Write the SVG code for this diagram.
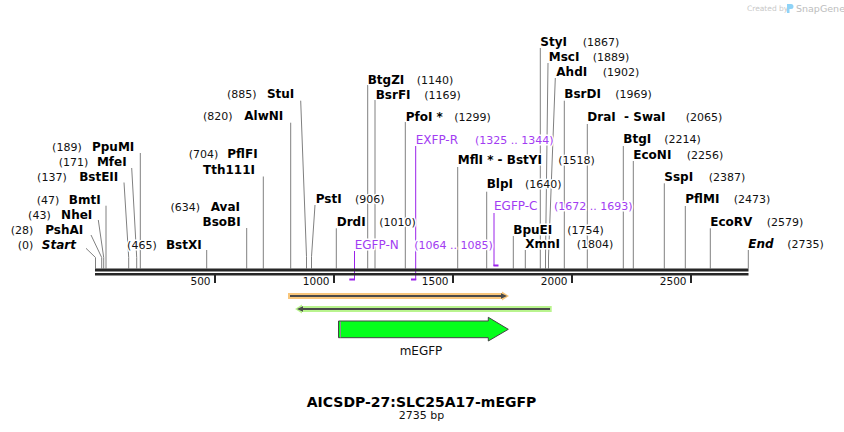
<svg xmlns="http://www.w3.org/2000/svg" width="844" height="432" viewBox="0 0 844 432">
<style>
text{font-family:"DejaVu Sans","Verdana",sans-serif;}
.nm{font-size:12px;font-weight:bold;fill:#000;}
.it{font-style:italic;}
.ps{font-size:11px;fill:#111;}
.bg{paint-order:stroke;stroke:#fff;stroke-width:3px;stroke-linejoin:round;}
.pr{font-size:12px;fill:#a23cf2;}
.prn{font-size:11px;fill:#a23cf2;}
.cut{stroke:#808080;stroke-width:1;fill:none;}
.pl{stroke:#9a22ea;stroke-width:1;fill:none;}
.ph{stroke:#9a22ea;stroke-width:2;fill:none;}
.tk{font-size:10.5px;fill:#111;text-anchor:end;}
</style>
<rect width="844" height="432" fill="#fff"/>

<!-- watermark -->
<g id="watermark">
<text x="747" y="11" style="font-size:7.5px;fill:#c8c8c8">Created by</text>
<path d="M787,4 h4 a2.5,2.5 0 0 1 0,5 h-1.5 v4 h-2.5 z" fill="#8fd3f7"/>
<text x="796" y="12" style="font-size:9.5px;fill:#bdbdbd">SnapGene</text>
</g>

<!-- connectors -->
<g id="connectors">
<polyline class="cut" points="86,248.3 95.5,257.5 95.5,268.5"/>
<polyline class="cut" points="91,235 101.7,257.5 101.7,268.5"/>
<polyline class="cut" points="98.3,220 103.7,257.5 103.7,268.5"/>
<line class="cut" x1="106" y1="205.7" x2="106" y2="268.5"/>
<polyline class="cut" points="124,182.5 128.7,257.5 128.7,268.5"/>
<polyline class="cut" points="131.7,168 136.7,257.5 136.7,268.5"/>
<line class="cut" x1="140.3" y1="153" x2="140.3" y2="268.5"/>
<line class="cut" x1="206.7" y1="250" x2="206.7" y2="268.5"/>
<line class="cut" x1="246.7" y1="228" x2="246.7" y2="268.5"/>
<line class="cut" x1="263.3" y1="176.5" x2="263.3" y2="268.5"/>
<line class="cut" x1="290.7" y1="122.7" x2="290.7" y2="268.5"/>
<polyline class="cut" points="300.7,100.7 306.5,256.7 306.5,268.5"/>
<polyline class="cut" points="315,205 311.5,256.7 311.5,268.5"/>
<line class="cut" x1="336.3" y1="228.3" x2="336.3" y2="268.5"/>
<line class="cut" x1="367.7" y1="85" x2="367.7" y2="268.5"/>
<line class="cut" x1="375" y1="100" x2="375" y2="268.5"/>
<line class="cut" x1="405.3" y1="122" x2="405.3" y2="268.5"/>
<line class="cut" x1="457.7" y1="167" x2="457.7" y2="268.5"/>
<line class="cut" x1="486.7" y1="191.7" x2="486.7" y2="268.5"/>
<line class="cut" x1="513.3" y1="236" x2="513.3" y2="268.5"/>
<line class="cut" x1="525.3" y1="250" x2="525.3" y2="268.5"/>
<line class="cut" x1="540.3" y1="48" x2="540.3" y2="268.5"/>
<polyline class="cut" points="548,63 545.5,257 545.5,268.5"/>
<polyline class="cut" points="555.3,78 548.5,257 548.5,268.5"/>
<line class="cut" x1="564.3" y1="100.7" x2="564.3" y2="268.5"/>
<line class="cut" x1="587.3" y1="124" x2="587.3" y2="268.5"/>
<line class="cut" x1="623.3" y1="146" x2="623.3" y2="268.5"/>
<line class="cut" x1="633.3" y1="161" x2="633.3" y2="268.5"/>
<line class="cut" x1="664.3" y1="183.3" x2="664.3" y2="268.5"/>
<line class="cut" x1="685.3" y1="206" x2="685.3" y2="268.5"/>
<line class="cut" x1="710.3" y1="228.3" x2="710.3" y2="268.5"/>
<line class="cut" x1="748.3" y1="250" x2="748.3" y2="268.5"/>
<!-- primer lines -->
<line class="pl" x1="415.7" y1="146" x2="415.7" y2="280"/>
<line class="ph" x1="411" y1="279.5" x2="416.2" y2="279.5"/>
<line class="pl" x1="354.5" y1="251" x2="354.5" y2="280"/>
<line class="ph" x1="349.3" y1="279.5" x2="355" y2="279.5"/>
<line class="pl" x1="494" y1="213" x2="494" y2="266"/>
<line class="ph" x1="493.5" y1="265.5" x2="498.5" y2="265.5"/>
</g>

<!-- axis -->
<g id="axis">
<rect x="95" y="268.5" width="653.5" height="3" fill="#262626"/>
<rect x="95" y="273" width="653.5" height="2.5" fill="#262626"/>
<rect x="214" y="275" width="2" height="8" fill="#262626"/>
<rect x="333" y="275" width="2" height="8" fill="#262626"/>
<rect x="452" y="275" width="2" height="8" fill="#262626"/>
<rect x="571" y="275" width="2" height="8" fill="#262626"/>
<rect x="690" y="275" width="2" height="8" fill="#262626"/>
<text class="tk" x="210.5" y="285">500</text>
<text class="tk" x="329.5" y="285">1000</text>
<text class="tk" x="448.5" y="285">1500</text>
<text class="tk" x="567.5" y="285">2000</text>
<text class="tk" x="686.5" y="285">2500</text>
</g>

<!-- left-side sites -->
<g id="site-Start"><text class="ps bg" x="33.3" y="249" text-anchor="end">(0)</text><text class="nm it bg" x="76" y="249" text-anchor="end">Start</text></g>
<g id="site-PshAI"><text class="ps bg" x="33.3" y="234" text-anchor="end">(28)</text><text class="nm bg" x="83.3" y="234" text-anchor="end">PshAI</text></g>
<g id="site-NheI"><text class="ps bg" x="50.7" y="219" text-anchor="end">(43)</text><text class="nm bg" x="92.3" y="219" text-anchor="end">NheI</text></g>
<g id="site-BmtI"><text class="ps bg" x="59.3" y="204" text-anchor="end">(47)</text><text class="nm bg" x="100.7" y="204" text-anchor="end">BmtI</text></g>
<g id="site-BstEII"><text class="ps bg" x="66.7" y="181" text-anchor="end">(137)</text><text class="nm bg" x="118.3" y="181" text-anchor="end">BstEII</text></g>
<g id="site-MfeI"><text class="ps bg" x="88.3" y="166" text-anchor="end">(171)</text><text class="nm bg" x="126.7" y="166" text-anchor="end">MfeI</text></g>
<g id="site-PpuMI"><text class="ps bg" x="81.7" y="151" text-anchor="end">(189)</text><text class="nm bg" x="134.3" y="151" text-anchor="end">PpuMI</text></g>
<g id="site-BstXI"><text class="ps bg" x="156.7" y="249" text-anchor="end">(465)</text><text class="nm bg" x="201.7" y="249" text-anchor="end">BstXI</text></g>
<g id="site-AvaI"><text class="ps bg" x="200" y="211" text-anchor="end">(634)</text><text class="nm bg" x="240" y="211" text-anchor="end">AvaI</text><text class="nm bg" x="240.7" y="226" text-anchor="end">BsoBI</text></g>
<g id="site-PflFI"><text class="ps bg" x="218.3" y="158" text-anchor="end">(704)</text><text class="nm bg" x="257.7" y="158" text-anchor="end">PflFI</text><text class="nm bg" x="255" y="174.3" text-anchor="end">Tth111I</text></g>
<g id="site-AlwNI"><text class="ps bg" x="232.5" y="120" text-anchor="end">(820)</text><text class="nm bg" x="283.3" y="120" text-anchor="end">AlwNI</text></g>
<g id="site-StuI"><text class="ps bg" x="256.5" y="98" text-anchor="end">(885)</text><text class="nm bg" x="294.3" y="98" text-anchor="end">StuI</text></g>

<!-- right-side sites -->
<g id="site-PstI"><text class="nm bg" x="315.7" y="203.3">PstI</text><text class="ps bg" x="355" y="203.3">(906)</text></g>
<g id="site-DrdI"><text class="nm bg" x="336.7" y="226">DrdI</text><text class="ps bg" x="379.3" y="226">(1010)</text></g>
<g id="site-BtgZI"><text class="nm bg" x="367.7" y="84">BtgZI</text><text class="ps bg" x="416.7" y="84">(1140)</text></g>
<g id="site-BsrFI"><text class="nm bg" x="375.7" y="99">BsrFI</text><text class="ps bg" x="424.3" y="99">(1169)</text></g>
<g id="site-PfoI"><text class="nm bg" x="405.7" y="120.7">PfoI *</text><text class="ps bg" x="454.3" y="120.7">(1299)</text></g>
<g id="site-MflI"><text class="nm bg" x="457.7" y="164.3">MflI * - BstYI</text><text class="ps bg" x="558.3" y="164.3">(1518)</text></g>
<g id="site-BlpI"><text class="nm bg" x="486.7" y="188.3">BlpI</text><text class="ps bg" x="525" y="188.3">(1640)</text></g>
<g id="site-BpuEI"><text class="nm bg" x="513.3" y="234">BpuEI</text><text class="ps bg" x="567.3" y="234">(1754)</text></g>
<g id="site-XmnI"><text class="nm bg" x="525.3" y="248.3">XmnI</text><text class="ps bg" x="576.7" y="248.3">(1804)</text></g>
<g id="site-StyI"><text class="nm bg" x="540.3" y="45.7">StyI</text><text class="ps bg" x="582.7" y="45.7">(1867)</text></g>
<g id="site-MscI"><text class="nm bg" x="548.7" y="60.7">MscI</text><text class="ps bg" x="592.7" y="60.7">(1889)</text></g>
<g id="site-AhdI"><text class="nm bg" x="556.3" y="75.7">AhdI</text><text class="ps bg" x="602.7" y="75.7">(1902)</text></g>
<g id="site-BsrDI"><text class="nm bg" x="564.3" y="98.3">BsrDI</text><text class="ps bg" x="615.3" y="98.3">(1969)</text></g>
<g id="site-DraI"><text class="nm bg" x="587.3" y="120.7" xml:space="preserve">DraI  - SwaI</text><text class="ps bg" x="685.7" y="120.7">(2065)</text></g>
<g id="site-BtgI"><text class="nm bg" x="623.3" y="143.3">BtgI</text><text class="ps bg" x="664.3" y="143.3">(2214)</text></g>
<g id="site-EcoNI"><text class="nm bg" x="633.3" y="159">EcoNI</text><text class="ps bg" x="686.7" y="159">(2256)</text></g>
<g id="site-SspI"><text class="nm bg" x="664.3" y="180.7">SspI</text><text class="ps bg" x="708.7" y="180.7">(2387)</text></g>
<g id="site-PflMI"><text class="nm bg" x="685.3" y="203.3">PflMI</text><text class="ps bg" x="733.7" y="203.3">(2473)</text></g>
<g id="site-EcoRV"><text class="nm bg" x="710.3" y="225.7">EcoRV</text><text class="ps bg" x="766.7" y="225.7">(2579)</text></g>
<g id="site-End"><text class="nm it bg" x="748.3" y="248.3">End</text><text class="ps bg" x="787.3" y="248.3">(2735)</text></g>

<!-- primers -->
<g id="primer-EXFP-R"><text class="pr bg" x="415.7" y="144">EXFP-R</text><text class="prn bg" x="475" y="144">(1325 .. 1344)</text></g>
<g id="primer-EGFP-N"><text class="pr bg" x="354.7" y="249">EGFP-N</text><text class="prn bg" x="414.3" y="249">(1064 .. 1085)</text></g>
<g id="primer-EGFP-C"><text class="pr bg" x="494" y="210">EGFP-C</text><text class="prn bg" x="554" y="210">(1672 .. 1693)</text></g>

<!-- primer binding bars -->
<g id="bar-forward">
<polygon points="288,293 502,293 502,291.5 509,296 502,300.5 502,299 288,299" fill="#f8c67c"/>
<line x1="290" y1="296" x2="502" y2="296" stroke="#4a4a4a" stroke-width="2"/>
<polygon points="501,293.3 507,296 501,298.7" fill="#4a4a4a"/>
</g>
<g id="bar-reverse">
<polygon points="551.7,306 302,306 302,304.5 295,309 302,313.5 302,312 551.7,312" fill="#b9f48e"/>
<line x1="302" y1="309" x2="550" y2="309" stroke="#4a4a4a" stroke-width="2"/>
<polygon points="303,306.3 297,309 303,311.7" fill="#4a4a4a"/>
</g>

<!-- mEGFP feature -->
<g id="feature-mEGFP">
<polygon points="338.5,321 488.3,321 488.3,317.3 508.3,329.3 488.3,341 488.3,337.7 338.5,337.7" fill="#05ff1c" stroke="#444" stroke-width="1"/>
<line x1="340.5" y1="321.5" x2="340.5" y2="337.2" stroke="#fff" stroke-width="1"/>
<line x1="340.5" y1="321.5" x2="340.5" y2="337.2" stroke="#222" stroke-width="1" stroke-dasharray="1 1"/>
<text x="421" y="355" text-anchor="middle" style="font-size:12px;fill:#111">mEGFP</text>
</g>

<!-- title -->
<g id="title">
<text x="421.5" y="406.5" text-anchor="middle" style="font-size:14px;font-weight:bold;fill:#000">AICSDP-27:SLC25A17-mEGFP</text>
<text x="421.5" y="419" text-anchor="middle" style="font-size:11px;fill:#111">2735 bp</text>
</g>
</svg>
